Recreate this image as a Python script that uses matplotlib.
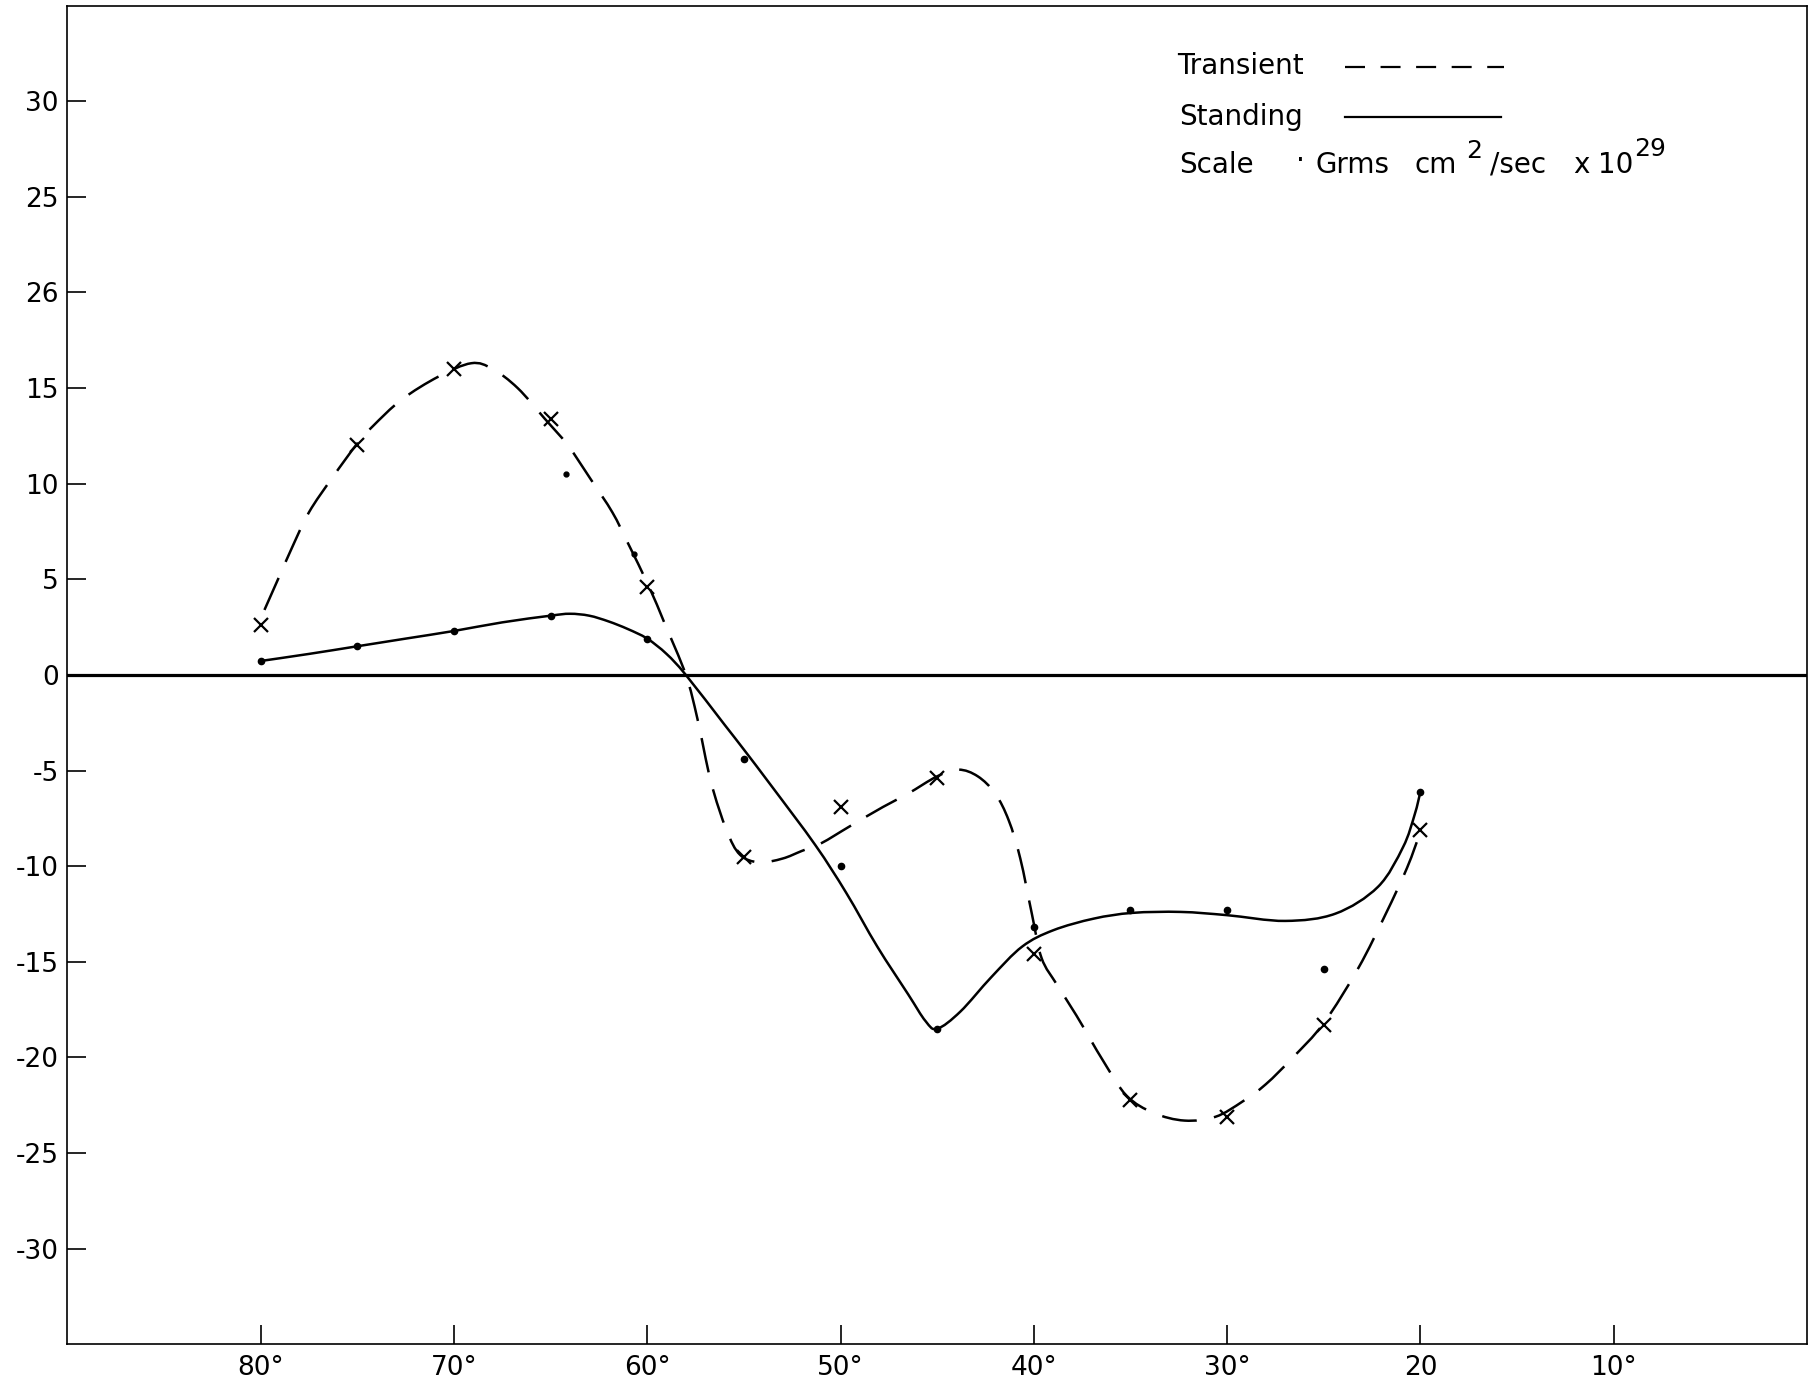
#!/usr/bin/env python3
"""Transient vs standing eddy flux by latitude (re-drawn from a scanned figure)."""

import matplotlib
matplotlib.use("Agg")
import matplotlib.pyplot as plt
from matplotlib.lines import Line2D
from matplotlib.patches import PathPatch
from matplotlib.path import Path
import numpy as np

# plotted points (latitude, value x 10^29)
lat = [80, 75, 70, 65, 60, 55, 50, 45, 40, 35, 30, 25, 20]
transient_pts = [2.6, 12.0, 16.0, 13.4, 4.6, -9.5, -6.9, -5.4, -14.6, -22.2, -23.1, -18.3, -8.1]
standing_pts = [0.73, 1.5, 2.3, 3.1, 1.9, -4.4, -10.0, -18.5, -13.2, -12.3, -12.3, -15.4, -6.1]

# two loose dots that sit off both curves
stray_lat = [64.2, 60.7]
stray_val = [10.5, 6.3]

# hand-drawn curves
transient_curve_lat = [79.8, 79.1, 78.4, 77.5, 76.3, 75.0, 74.2, 72.7, 70.8, 69.1, 68.0, 66.7,
                       65.3, 64.1, 62.9, 61.8, 61.0, 59.9, 59.1, 58.0, 57.4, 56.7, 55.9, 55.2,
                       54.2, 53.0, 52.0, 51.0, 49.5, 47.8, 46.5, 45.0, 43.9, 42.9, 42.0, 41.3,
                       40.7, 40.1, 39.6, 38.8, 37.8, 36.4, 35.2, 33.8, 32.2, 30.6, 29.2, 28.0,
                       26.6, 25.0, 23.2, 21.8, 20.7, 20.0]
transient_curve_val = [3.4, 5.0, 6.6, 8.5, 10.3, 12.1, 13.0, 14.4, 15.6, 16.3, 16.0, 15.0,
                       13.4, 12.0, 10.2, 8.5, 6.9, 4.6, 2.7, 0.0, -2.3, -5.6, -8.1, -9.4,
                       -9.8, -9.6, -9.2, -8.8, -7.9, -6.9, -6.2, -5.3, -4.95, -5.3, -6.2, -7.6,
                       -9.6, -12.5, -14.8, -16.2, -17.8, -20.2, -22.0, -22.9, -23.3, -23.1, -22.3, -21.4,
                       -20.0, -18.2, -15.3, -12.5, -10.1, -8.2]

standing_curve_lat = [80.0, 77.5, 75.0, 72.5, 70.0, 67.5, 65.0, 64.0, 63.0, 62.0, 61.0, 60.0,
                      59.0, 58.0, 56.0, 55.0, 53.5, 51.3, 49.7, 48.1, 46.5, 45.6, 45.0,
                      43.8, 42.2, 40.6, 39.0, 36.9, 34.9, 32.4, 30.0, 27.0, 24.4, 22.2, 20.9,
                      20.3, 20.0]
standing_curve_val = [0.73, 1.1, 1.5, 1.9, 2.3, 2.75, 3.1, 3.2, 3.1, 2.8, 2.4, 1.9,
                      1.1, 0.0, -2.6, -3.9, -5.9, -8.9, -11.4, -14.2, -16.7, -18.1, -18.5,
                      -17.6, -15.8, -14.2, -13.35, -12.74, -12.44, -12.39, -12.56, -12.86, -12.48, -11.08, -9.0,
                      -7.3, -6.1]

yticks = [30, 25, 20, 15, 10, 5, 0, -5, -10, -15, -20, -25, -30]
ytick_labels = ["30", "25", "26", "15", "10", "5", "0", "-5", "-10", "-15", "-20", "-25", "-30"]
xticks = [80, 70, 60, 50, 40, 30, 20, 10]
xtick_labels = ["80°", "70°", "60°", "50°", "40°", "30°", "20", "10°"]

plt.rcParams["font.family"] = ["DejaVu Sans"]

LW = 1.8
DASH = (0, (14, 7))


def smooth_path(xs, ys):
    """Catmull-Rom through the traced points, as cubic Bezier segments."""
    pts = np.column_stack([xs, ys]).astype(float)
    ext = np.vstack([pts[0], pts, pts[-1]])
    verts = [pts[0]]
    codes = [Path.MOVETO]
    for i in range(1, len(ext) - 2):
        p0, p1, p2, p3 = ext[i - 1], ext[i], ext[i + 1], ext[i + 2]
        verts += [p1 + (p2 - p0) / 6, p2 - (p3 - p1) / 6, p2]
        codes += [Path.CURVE4] * 3
    return Path(verts, codes)


fig = plt.figure(figsize=(18.18, 13.96), dpi=100)
ax = fig.add_axes([0.037, 0.037, 0.957, 0.959])

ax.axhline(0, color="black", lw=2.3, zorder=1)

ax.add_patch(PathPatch(smooth_path(transient_curve_lat, transient_curve_val),
                       fill=False, ec="black", lw=LW, ls=DASH, zorder=2))
ax.add_patch(PathPatch(smooth_path(standing_curve_lat, standing_curve_val),
                       fill=False, ec="black", lw=LW, zorder=2))

ax.plot(lat, transient_pts, ls="none", marker="x", ms=10, mew=1.6, color="black", zorder=3)
ax.plot(lat, standing_pts, ls="none", marker="o", ms=4.5, color="black", zorder=3)
ax.plot(stray_lat, stray_val, ls="none", marker="o", ms=3.5, color="black", zorder=3)

ax.set_xlim(90, 0)
ax.set_ylim(-35, 35)

ax.set_xticks(xticks)
ax.set_xticklabels(xtick_labels)
ax.set_yticks(yticks)
ax.set_yticklabels(ytick_labels)
ax.tick_params(axis="both", direction="in", length=14, width=1.2, labelsize=19)
ax.tick_params(axis="y", pad=6)
ax.tick_params(axis="x", pad=8)
for s in ax.spines.values():
    s.set_linewidth(1.2)

# key in the top right corner: label first, sample line after it
KEY_FS = 20
SUP_FS = 18
ax.text(0.6377, 0.9548, "Transient", transform=ax.transAxes, fontsize=KEY_FS,
        ha="left", va="center")
ax.text(0.639, 0.9167, "Standing", transform=ax.transAxes, fontsize=KEY_FS,
        ha="left", va="center")
ax.add_line(Line2D([0.7344, 0.8257], [0.954, 0.954], transform=ax.transAxes,
                   color="black", lw=1.6, ls=(0, (9, 7))))
ax.add_line(Line2D([0.7344, 0.8243], [0.9167, 0.9167], transform=ax.transAxes,
                   color="black", lw=1.6))

# "Scale  Grms cm2/sec x 10^29", set piece by piece like the lettering
scale_parts = [("Scale", 0.639, 0.881, KEY_FS),
               ("·", 0.706, 0.884, KEY_FS),
               ("Grms", 0.7177, 0.881, KEY_FS),
               ("cm", 0.7744, 0.881, KEY_FS),
               ("2", 0.8043, 0.8916, SUP_FS),
               ("/sec", 0.8177, 0.881, KEY_FS),
               ("x", 0.8657, 0.881, KEY_FS),
               ("10", 0.8797, 0.881, KEY_FS),
               ("29", 0.9005, 0.893, SUP_FS)]
for txt, xf, yf, fs in scale_parts:
    ax.text(xf, yf, txt, transform=ax.transAxes, fontsize=fs, ha="left", va="center")

fig.savefig("out.png", dpi=100)
